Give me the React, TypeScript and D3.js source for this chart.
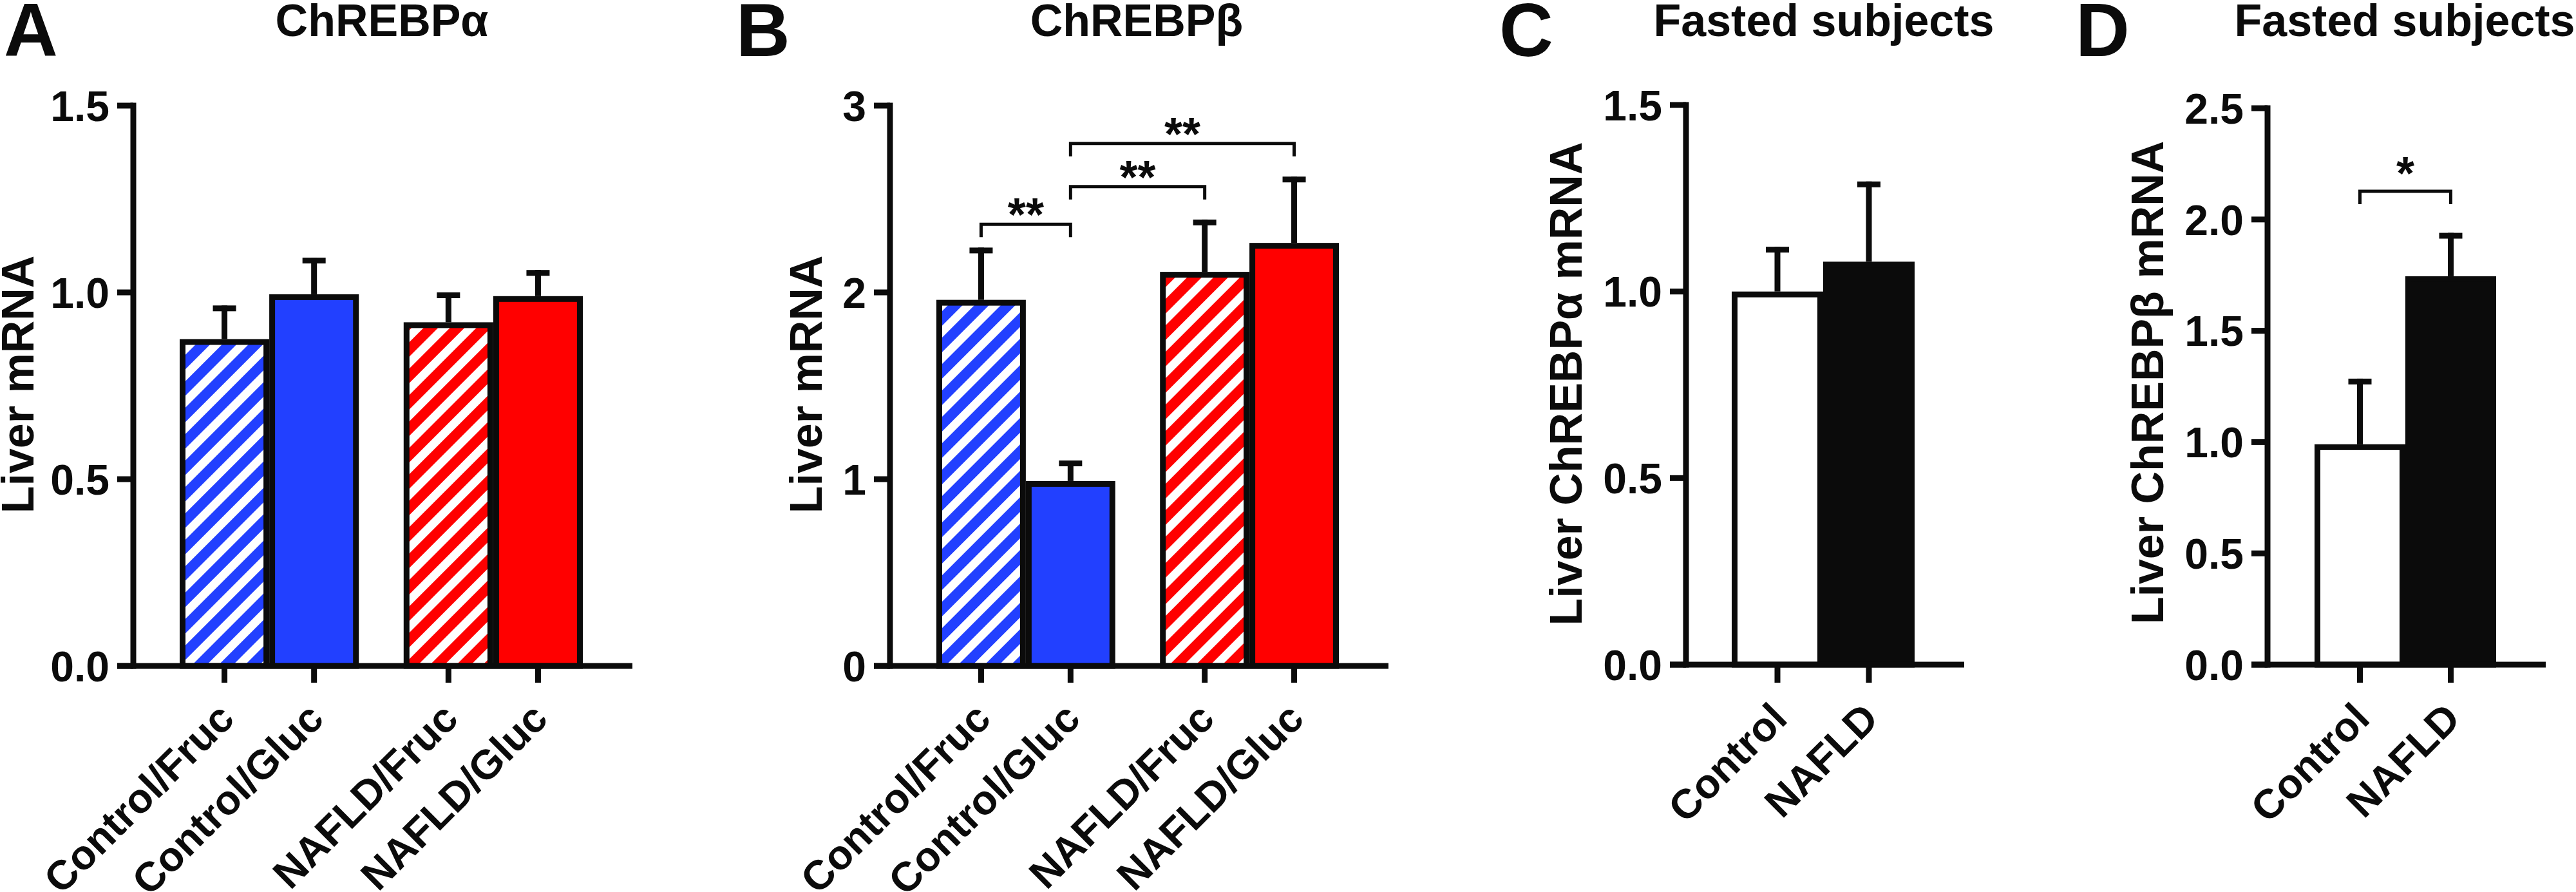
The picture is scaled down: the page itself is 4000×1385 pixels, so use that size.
import React from "react";
import * as d3 from "d3";

// ---------- data ----------
const groups = ["Control", "NAFLD"];
const sugars = ["Fruc", "Gluc"];
const categoriesAB = ["Control/Fruc", "Control/Gluc", "NAFLD/Fruc", "NAFLD/Gluc"];

const alphaMeans = [0.875, 0.995, 0.92, 0.99];
const alphaSems = [0.09, 0.098, 0.08, 0.07];

const betaMeans = [1.96, 0.99, 2.11, 2.265];
const betaSems = [0.28, 0.11, 0.28, 0.355];
const betaBrackets = [
  { a: 0, b: 1, y: 2.365, label: "**" },
  { a: 1, b: 2, y: 2.566, label: "**" },
  { a: 1, b: 3, y: 2.797, label: "**" },
];

const fastedCategories = ["Control", "NAFLD"];
const fastedAlphaMeans = [1.0, 1.08];
const fastedAlphaSems = [0.12, 0.215];
const fastedBetaMeans = [0.99, 1.745];
const fastedBetaSems = [0.295, 0.195];
const fastedBetaBrackets = [{ a: 0, b: 1, y: 2.127, label: "*" }];

const ticksA = [0, 0.5, 1, 1.5];
const ticksB = [0, 1, 2, 3];
const ticksC = [0, 0.5, 1, 1.5];
const ticksD = [0, 0.5, 1, 1.5, 2, 2.5];

// ---------- style ----------
const BLACK = "#0b0b0b";
const BLUE = "#2240FF";
const RED = "#FF0000";
const FONT = "'Liberation Sans', Arial, Helvetica, sans-serif";
const SW = 9;

const fillsAB = ["url(#hatchBlue)", BLUE, "url(#hatchRed)", RED];
const fillsCD = ["#ffffff", BLACK];

const panels = [
  {
    letter: "A", letterX: 6, title: "ChREBPα", titleX: 593,
    yLabel: "Liver mRNA", yLabelX: 52, yLabelY: 597,
    axisX: 207, barRange: [279, 905], baseEnd: 982,
    yRange: [1034, 164], domain: [0, 1.5], ticks: ticksA, fmt: ".1f",
    cats: categoriesAB, means: alphaMeans, sems: alphaSems, fills: fillsAB,
    grouped: true, brackets: [] as any[], starOffset: 10,
  },
  {
    letter: "B", letterX: 1143, title: "ChREBPβ", titleX: 1765,
    yLabel: "Liver mRNA", yLabelX: 1276, yLabelY: 597,
    axisX: 1382, barRange: [1454, 2079], baseEnd: 2156,
    yRange: [1034, 164], domain: [0, 3], ticks: ticksB, fmt: "d",
    cats: categoriesAB, means: betaMeans, sems: betaSems, fills: fillsAB,
    grouped: true, brackets: betaBrackets, starOffset: 10,
  },
  {
    letter: "C", letterX: 2328, title: "Fasted subjects", titleX: 2832,
    yLabel: "Liver ChREBPα mRNA", yLabelX: 2456, yLabelY: 596,
    axisX: 2618, barRange: [2689, 2973], baseEnd: 3050,
    yRange: [1032, 163], domain: [0, 1.5], ticks: ticksC, fmt: ".1f",
    cats: fastedCategories, means: fastedAlphaMeans, sems: fastedAlphaSems, fills: fillsCD,
    grouped: false, brackets: [] as any[], starOffset: 0,
  },
  {
    letter: "D", letterX: 3223, title: "Fasted subjects", titleX: 3734,
    yLabel: "Liver ChREBPβ mRNA", yLabelX: 3359, yLabelY: 594,
    axisX: 3521, barRange: [3594, 3876], baseEnd: 3953,
    yRange: [1032, 168], domain: [0, 2.5], ticks: ticksD, fmt: ".1f",
    cats: fastedCategories, means: fastedBetaMeans, sems: fastedBetaSems, fills: fillsCD,
    grouped: false, brackets: fastedBetaBrackets, starOffset: -3,
  },
];

function Panel({ p }: { p: any }) {
  const y = d3.scaleLinear().domain(p.domain).range(p.yRange);
  let band: (c: string) => { x: number; w: number };
  if (p.grouped) {
    const g = d3.scaleBand<string>().domain(groups).range(p.barRange).paddingInner(0.2).paddingOuter(0);
    const inner = d3.scaleBand<string>().domain(sugars).range([0, g.bandwidth()]);
    band = (c: string) => {
      const [grp, sug] = c.split("/");
      return { x: (g(grp) as number) + (inner(sug) as number), w: inner.bandwidth() };
    };
  } else {
    const s = d3.scaleBand<string>().domain(p.cats).range(p.barRange);
    band = (c: string) => ({ x: s(c) as number, w: s.bandwidth() });
  }
  const fmt = d3.format(p.fmt);
  const y0 = y(0);
  const yTop = y(p.domain[1]);
  const tickLen = 25;
  const centers = p.cats.map((c: string) => band(c).x + band(c).w / 2);

  return (
    <g>
      {/* panel letter */}
      <text x={p.letterX} y={87} fontFamily={FONT} fontWeight="bold" fontSize={116} fill={BLACK}>
        {p.letter}
      </text>
      {/* title */}
      <text x={p.titleX} y={56} textAnchor="middle" fontFamily={FONT} fontWeight="bold" fontSize={70} fill={BLACK}>
        {p.title}
      </text>
      {/* y label */}
      <text
        transform={`translate(${p.yLabelX},${p.yLabelY}) rotate(-90)`}
        textAnchor="middle" fontFamily={FONT} fontWeight="bold" fontSize={70} fill={BLACK}
      >
        {p.yLabel}
      </text>

      {/* bars */}
      {p.cats.map((c: string, i: number) => {
        const b = band(c);
        const top = y(p.means[i]);
        return (
          <rect
            key={"bar" + i}
            x={b.x + SW / 2}
            y={top + SW / 2}
            width={b.w - SW}
            height={y0 - top - SW / 2}
            fill={p.fills[i]}
            stroke={BLACK}
            strokeWidth={SW}
          />
        );
      })}

      {/* error bars */}
      {p.cats.map((c: string, i: number) => {
        const cx = centers[i];
        const top = y(p.means[i]);
        const cap = y(p.means[i] + p.sems[i]);
        return (
          <g key={"err" + i} fill={BLACK}>
            <rect x={cx - SW / 2} y={cap} width={SW} height={top - cap} />
            <rect x={cx - 18} y={cap} width={36} height={SW} />
          </g>
        );
      })}

      {/* y axis */}
      <rect x={p.axisX - SW / 2} y={yTop - SW / 2} width={SW} height={y0 - yTop + SW} fill={BLACK} />
      {p.ticks.map((t: number) => (
        <g key={"yt" + t}>
          <rect x={p.axisX - tickLen} y={y(t) - SW / 2} width={tickLen} height={SW} fill={BLACK} />
          <text
            x={p.axisX - tickLen - 12}
            y={y(t)}
            dy="0.36em"
            textAnchor="end"
            fontFamily={FONT}
            fontWeight="bold"
            fontSize={66}
            fill={BLACK}
          >
            {fmt(t)}
          </text>
        </g>
      ))}

      {/* x axis */}
      <rect x={p.axisX - tickLen} y={y0 - SW / 2} width={p.baseEnd - (p.axisX - tickLen)} height={SW} fill={BLACK} />
      {p.cats.map((c: string, i: number) => (
        <g key={"xt" + i}>
          <rect x={centers[i] - SW / 2} y={y0} width={SW} height={1060 - y0} fill={BLACK} />
          <text
            transform={`translate(${centers[i] + 2},1103) rotate(-45)`}
            dy="0.36em"
            textAnchor="end"
            fontFamily={FONT}
            fontWeight="bold"
            fontSize={64}
            fill={BLACK}
          >
            {c}
          </text>
        </g>
      ))}

      {/* significance brackets */}
      {p.brackets.map((br: any, k: number) => {
        const xa = centers[br.a];
        const xb = centers[br.b];
        const yb = y(br.y);
        return (
          <g key={"br" + k}>
            <path
              d={`M${xa},${yb + 20}V${yb}H${xb}V${yb + 20}`}
              fill="none"
              stroke={BLACK}
              strokeWidth={5}
            />
            <text
              x={(xa + xb) / 2}
              y={yb + p.starOffset}
              textAnchor="middle"
              fontFamily={FONT}
              fontWeight="bold"
              fontSize={72}
              fill={BLACK}
            >
              {br.label}
            </text>
          </g>
        );
      })}
    </g>
  );
}

export default function App() {
  return (
    <svg
      width={4000}
      height={1385}
      viewBox="0 0 4000 1385"
      style={{ position: "absolute", left: 0, top: 0, background: "#ffffff" }}
    >
      <defs>
        <pattern id="hatchBlue" patternUnits="userSpaceOnUse" width={29} height={29} patternTransform="rotate(45)">
          <rect width={29} height={29} fill={BLUE} />
          <rect width={13} height={29} fill="#ffffff" />
        </pattern>
        <pattern id="hatchRed" patternUnits="userSpaceOnUse" width={29} height={29} patternTransform="rotate(45)">
          <rect width={29} height={29} fill={RED} />
          <rect width={13} height={29} fill="#ffffff" />
        </pattern>
      </defs>
      <rect width={4000} height={1385} fill="#ffffff" />
      {panels.map((p) => (
        <Panel key={p.letter} p={p} />
      ))}
    </svg>
  );
}
